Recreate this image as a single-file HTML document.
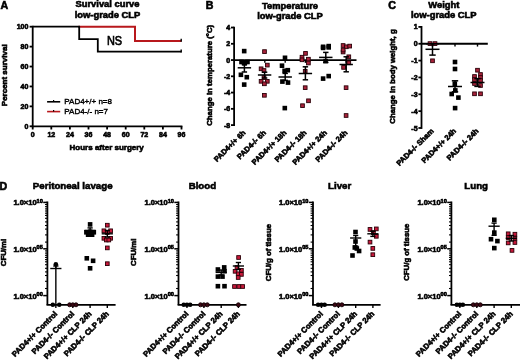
<!DOCTYPE html>
<html><head><meta charset="utf-8"><title>Figure</title>
<style>
html,body{margin:0;padding:0;background:#fff;width:520px;height:360px;overflow:hidden;}
svg{display:block;will-change:transform;}
text{stroke:#000;stroke-width:0.6px;}
svg{font-family:"Liberation Sans",sans-serif;filter:blur(0.35px);}
</style></head>
<body>
<svg width="520" height="360" viewBox="0 0 520 360">
<rect width="520" height="360" fill="#fff"/>
<text x="0.60" y="8.70" font-size="10.6" text-anchor="start" font-weight="bold" >A</text>
<text x="107.50" y="6.70" font-size="9.4" text-anchor="middle" font-weight="bold" >Survival curve</text>
<text x="107.50" y="17.60" font-size="9.4" text-anchor="middle" font-weight="bold" >low-grade CLP</text>
<text transform="translate(7.40,75.30) rotate(-90)" font-size="8.0" text-anchor="middle" font-weight="bold">Percent survival</text>
<line x1="29.60" y1="126.30" x2="32.70" y2="126.30" stroke="#000" stroke-width="1.8"/>
<text x="28.40" y="128.80" font-size="7.0" text-anchor="end" font-weight="bold" >0</text>
<line x1="29.60" y1="106.38" x2="32.70" y2="106.38" stroke="#000" stroke-width="1.8"/>
<text x="28.40" y="108.88" font-size="7.0" text-anchor="end" font-weight="bold" >20</text>
<line x1="29.60" y1="86.46" x2="32.70" y2="86.46" stroke="#000" stroke-width="1.8"/>
<text x="28.40" y="88.96" font-size="7.0" text-anchor="end" font-weight="bold" >40</text>
<line x1="29.60" y1="66.54" x2="32.70" y2="66.54" stroke="#000" stroke-width="1.8"/>
<text x="28.40" y="69.04" font-size="7.0" text-anchor="end" font-weight="bold" >60</text>
<line x1="29.60" y1="46.62" x2="32.70" y2="46.62" stroke="#000" stroke-width="1.8"/>
<text x="28.40" y="49.12" font-size="7.0" text-anchor="end" font-weight="bold" >80</text>
<line x1="29.60" y1="26.70" x2="32.70" y2="26.70" stroke="#000" stroke-width="1.8"/>
<text x="28.40" y="29.20" font-size="7.0" text-anchor="end" font-weight="bold" >100</text>
<line x1="32.70" y1="126.30" x2="32.70" y2="129.50" stroke="#000" stroke-width="1.8"/>
<text x="32.70" y="137.20" font-size="7.0" text-anchor="middle" font-weight="bold" >0</text>
<line x1="51.30" y1="126.30" x2="51.30" y2="129.50" stroke="#000" stroke-width="1.8"/>
<text x="51.30" y="137.20" font-size="7.0" text-anchor="middle" font-weight="bold" >12</text>
<line x1="69.90" y1="126.30" x2="69.90" y2="129.50" stroke="#000" stroke-width="1.8"/>
<text x="69.90" y="137.20" font-size="7.0" text-anchor="middle" font-weight="bold" >24</text>
<line x1="88.50" y1="126.30" x2="88.50" y2="129.50" stroke="#000" stroke-width="1.8"/>
<text x="88.50" y="137.20" font-size="7.0" text-anchor="middle" font-weight="bold" >36</text>
<line x1="107.10" y1="126.30" x2="107.10" y2="129.50" stroke="#000" stroke-width="1.8"/>
<text x="107.10" y="137.20" font-size="7.0" text-anchor="middle" font-weight="bold" >48</text>
<line x1="125.70" y1="126.30" x2="125.70" y2="129.50" stroke="#000" stroke-width="1.8"/>
<text x="125.70" y="137.20" font-size="7.0" text-anchor="middle" font-weight="bold" >60</text>
<line x1="144.30" y1="126.30" x2="144.30" y2="129.50" stroke="#000" stroke-width="1.8"/>
<text x="144.30" y="137.20" font-size="7.0" text-anchor="middle" font-weight="bold" >72</text>
<line x1="162.90" y1="126.30" x2="162.90" y2="129.50" stroke="#000" stroke-width="1.8"/>
<text x="162.90" y="137.20" font-size="7.0" text-anchor="middle" font-weight="bold" >84</text>
<line x1="181.50" y1="126.30" x2="181.50" y2="129.50" stroke="#000" stroke-width="1.8"/>
<text x="181.50" y="137.20" font-size="7.0" text-anchor="middle" font-weight="bold" >96</text>
<polyline points="78.30,26.70 135.00,26.70 135.00,40.94 181.50,40.94" fill="none" stroke="#b8181c" stroke-width="2.0" stroke-linejoin="miter"/>
<polyline points="32.70,26.70 79.20,26.70 79.20,39.15 97.80,39.15 97.80,51.60 181.50,51.60" fill="none" stroke="#000" stroke-width="1.8" stroke-linejoin="miter"/>
<line x1="181.20" y1="41.74" x2="181.20" y2="38.74" stroke="#000" stroke-width="1.4"/>
<line x1="181.20" y1="52.40" x2="181.20" y2="49.40" stroke="#000" stroke-width="1.4"/>
<line x1="32.70" y1="25.80" x2="32.70" y2="127.20" stroke="#000" stroke-width="1.8"/>
<line x1="31.80" y1="126.30" x2="182.40" y2="126.30" stroke="#000" stroke-width="1.8"/>
<text x="106.9" y="44.8" font-size="13.2" textLength="15.2" lengthAdjust="spacingAndGlyphs" style="stroke-width:0.7px">NS</text>
<line x1="47.10" y1="101.80" x2="60.20" y2="101.80" stroke="#000" stroke-width="1.6"/>
<line x1="53.60" y1="101.80" x2="53.60" y2="100.10" stroke="#000" stroke-width="1.2"/>
<line x1="47.10" y1="111.60" x2="60.20" y2="111.60" stroke="#b8181c" stroke-width="1.6"/>
<line x1="53.60" y1="111.60" x2="53.60" y2="109.90" stroke="#000" stroke-width="1.2"/>
<text x="64.30" y="104.30" font-size="8.0" text-anchor="start"  style="stroke-width:0.4px">PAD4+/+ n=8</text>
<text x="64.30" y="114.00" font-size="8.0" text-anchor="start"  style="stroke-width:0.4px">PAD4-/-  n=7</text>
<text x="106.70" y="150.30" font-size="8.0" text-anchor="middle" font-weight="bold" >Hours after surgery</text>
<text x="205.80" y="9.00" font-size="10.6" text-anchor="start" font-weight="bold" >B</text>
<text x="290.00" y="8.60" font-size="9.4" text-anchor="middle" font-weight="bold" >Temperature</text>
<text x="290.00" y="18.80" font-size="9.4" text-anchor="middle" font-weight="bold" >low-grade CLP</text>
<text transform="translate(212.40,75.30) rotate(-90)" font-size="7.8" text-anchor="middle" font-weight="bold">Change in temperature (°C)</text>
<line x1="231.00" y1="27.53" x2="234.10" y2="27.53" stroke="#000" stroke-width="1.8"/>
<text x="230.20" y="30.03" font-size="7.0" text-anchor="end" font-weight="bold" >4</text>
<line x1="231.00" y1="43.79" x2="234.10" y2="43.79" stroke="#000" stroke-width="1.8"/>
<text x="230.20" y="46.29" font-size="7.0" text-anchor="end" font-weight="bold" >2</text>
<line x1="231.00" y1="60.05" x2="234.10" y2="60.05" stroke="#000" stroke-width="1.8"/>
<text x="230.20" y="62.55" font-size="7.0" text-anchor="end" font-weight="bold" >0</text>
<line x1="231.00" y1="76.31" x2="234.10" y2="76.31" stroke="#000" stroke-width="1.8"/>
<text x="230.20" y="78.81" font-size="7.0" text-anchor="end" font-weight="bold" >-2</text>
<line x1="231.00" y1="92.57" x2="234.10" y2="92.57" stroke="#000" stroke-width="1.8"/>
<text x="230.20" y="95.07" font-size="7.0" text-anchor="end" font-weight="bold" >-4</text>
<line x1="231.00" y1="108.83" x2="234.10" y2="108.83" stroke="#000" stroke-width="1.8"/>
<text x="230.20" y="111.33" font-size="7.0" text-anchor="end" font-weight="bold" >-6</text>
<line x1="231.00" y1="125.09" x2="234.10" y2="125.09" stroke="#000" stroke-width="1.8"/>
<text x="230.20" y="127.59" font-size="7.0" text-anchor="end" font-weight="bold" >-8</text>
<line x1="234.10" y1="26.63" x2="234.10" y2="125.99" stroke="#000" stroke-width="1.8"/>
<line x1="234.10" y1="60.05" x2="356.50" y2="60.05" stroke="#000" stroke-width="1.8"/>
<line x1="244.40" y1="60.05" x2="244.40" y2="62.85" stroke="#000" stroke-width="1.4"/>
<line x1="264.80" y1="60.05" x2="264.80" y2="62.85" stroke="#000" stroke-width="1.4"/>
<line x1="285.20" y1="60.05" x2="285.20" y2="62.85" stroke="#000" stroke-width="1.4"/>
<line x1="305.40" y1="60.05" x2="305.40" y2="62.85" stroke="#000" stroke-width="1.4"/>
<line x1="325.80" y1="60.05" x2="325.80" y2="62.85" stroke="#000" stroke-width="1.4"/>
<line x1="346.20" y1="60.05" x2="346.20" y2="62.85" stroke="#000" stroke-width="1.4"/>
<rect x="241.90" y="48.80" width="4.60" height="4.60" fill="#000"/>
<rect x="239.20" y="59.70" width="4.60" height="4.60" fill="#000"/>
<rect x="245.20" y="59.70" width="4.60" height="4.60" fill="#000"/>
<rect x="242.20" y="61.00" width="4.60" height="4.60" fill="#000"/>
<rect x="238.60" y="72.50" width="4.60" height="4.60" fill="#000"/>
<rect x="244.50" y="74.90" width="4.60" height="4.60" fill="#000"/>
<rect x="241.90" y="82.30" width="4.60" height="4.60" fill="#000"/>
<line x1="237.70" y1="67.80" x2="251.10" y2="67.80" stroke="#000" stroke-width="1.5"/>
<line x1="244.40" y1="64.60" x2="244.40" y2="67.80" stroke="#000" stroke-width="1.5"/>
<line x1="241.70" y1="64.60" x2="247.10" y2="64.60" stroke="#000" stroke-width="1.5"/>
<line x1="244.40" y1="67.80" x2="244.40" y2="72.00" stroke="#000" stroke-width="1.5"/>
<line x1="241.70" y1="72.00" x2="247.10" y2="72.00" stroke="#000" stroke-width="1.5"/>
<rect x="262.65" y="49.75" width="3.70" height="3.70" fill="#a8223a" stroke="#2a0008" stroke-width="0.9"/>
<rect x="265.45" y="63.25" width="3.70" height="3.70" fill="#a8223a" stroke="#2a0008" stroke-width="0.9"/>
<rect x="259.25" y="66.95" width="3.70" height="3.70" fill="#a8223a" stroke="#2a0008" stroke-width="0.9"/>
<rect x="262.15" y="68.65" width="3.70" height="3.70" fill="#a8223a" stroke="#2a0008" stroke-width="0.9"/>
<rect x="262.15" y="75.75" width="3.70" height="3.70" fill="#a8223a" stroke="#2a0008" stroke-width="0.9"/>
<rect x="259.25" y="79.45" width="3.70" height="3.70" fill="#a8223a" stroke="#2a0008" stroke-width="0.9"/>
<rect x="265.45" y="79.45" width="3.70" height="3.70" fill="#a8223a" stroke="#2a0008" stroke-width="0.9"/>
<rect x="262.55" y="81.95" width="3.70" height="3.70" fill="#a8223a" stroke="#2a0008" stroke-width="0.9"/>
<rect x="262.55" y="93.45" width="3.70" height="3.70" fill="#a8223a" stroke="#2a0008" stroke-width="0.9"/>
<line x1="257.90" y1="75.00" x2="271.30" y2="75.00" stroke="#000" stroke-width="1.5"/>
<line x1="264.60" y1="72.20" x2="264.60" y2="75.00" stroke="#000" stroke-width="1.5"/>
<line x1="261.90" y1="72.20" x2="267.30" y2="72.20" stroke="#000" stroke-width="1.5"/>
<line x1="264.60" y1="75.00" x2="264.60" y2="78.00" stroke="#000" stroke-width="1.5"/>
<line x1="261.90" y1="78.00" x2="267.30" y2="78.00" stroke="#000" stroke-width="1.5"/>
<rect x="282.70" y="55.50" width="4.60" height="4.60" fill="#000"/>
<rect x="279.70" y="63.40" width="4.60" height="4.60" fill="#000"/>
<rect x="282.30" y="68.50" width="4.60" height="4.60" fill="#000"/>
<rect x="285.50" y="67.90" width="4.60" height="4.60" fill="#000"/>
<rect x="280.10" y="79.30" width="4.60" height="4.60" fill="#000"/>
<rect x="285.70" y="80.30" width="4.60" height="4.60" fill="#000"/>
<rect x="282.50" y="105.80" width="4.60" height="4.60" fill="#000"/>
<line x1="278.50" y1="77.00" x2="291.90" y2="77.00" stroke="#000" stroke-width="1.5"/>
<line x1="285.20" y1="73.40" x2="285.20" y2="77.00" stroke="#000" stroke-width="1.5"/>
<line x1="282.50" y1="73.40" x2="287.90" y2="73.40" stroke="#000" stroke-width="1.5"/>
<line x1="285.20" y1="77.00" x2="285.20" y2="80.40" stroke="#000" stroke-width="1.5"/>
<line x1="282.50" y1="80.40" x2="287.90" y2="80.40" stroke="#000" stroke-width="1.5"/>
<rect x="303.65" y="51.55" width="3.70" height="3.70" fill="#a8223a" stroke="#2a0008" stroke-width="0.9"/>
<rect x="300.15" y="55.35" width="3.70" height="3.70" fill="#a8223a" stroke="#2a0008" stroke-width="0.9"/>
<rect x="300.15" y="57.95" width="3.70" height="3.70" fill="#a8223a" stroke="#2a0008" stroke-width="0.9"/>
<rect x="306.55" y="57.35" width="3.70" height="3.70" fill="#a8223a" stroke="#2a0008" stroke-width="0.9"/>
<rect x="306.55" y="61.15" width="3.70" height="3.70" fill="#a8223a" stroke="#2a0008" stroke-width="0.9"/>
<rect x="303.35" y="69.45" width="3.70" height="3.70" fill="#a8223a" stroke="#2a0008" stroke-width="0.9"/>
<rect x="303.35" y="85.85" width="3.70" height="3.70" fill="#a8223a" stroke="#2a0008" stroke-width="0.9"/>
<rect x="306.65" y="98.95" width="3.70" height="3.70" fill="#a8223a" stroke="#2a0008" stroke-width="0.9"/>
<rect x="300.65" y="103.85" width="3.70" height="3.70" fill="#a8223a" stroke="#2a0008" stroke-width="0.9"/>
<line x1="298.70" y1="73.50" x2="312.10" y2="73.50" stroke="#000" stroke-width="1.5"/>
<line x1="305.40" y1="66.80" x2="305.40" y2="73.50" stroke="#000" stroke-width="1.5"/>
<line x1="302.70" y1="66.80" x2="308.10" y2="66.80" stroke="#000" stroke-width="1.5"/>
<line x1="305.40" y1="73.50" x2="305.40" y2="79.80" stroke="#000" stroke-width="1.5"/>
<line x1="302.70" y1="79.80" x2="308.10" y2="79.80" stroke="#000" stroke-width="1.5"/>
<rect x="320.80" y="44.50" width="4.60" height="4.60" fill="#000"/>
<rect x="326.40" y="43.80" width="4.60" height="4.60" fill="#000"/>
<rect x="320.80" y="45.60" width="4.60" height="4.60" fill="#000"/>
<rect x="326.40" y="45.10" width="4.60" height="4.60" fill="#000"/>
<rect x="323.30" y="58.80" width="4.60" height="4.60" fill="#000"/>
<rect x="320.80" y="76.30" width="4.60" height="4.60" fill="#000"/>
<rect x="326.40" y="73.80" width="4.60" height="4.60" fill="#000"/>
<line x1="319.10" y1="57.40" x2="332.50" y2="57.40" stroke="#000" stroke-width="1.5"/>
<line x1="325.80" y1="52.40" x2="325.80" y2="57.40" stroke="#000" stroke-width="1.5"/>
<line x1="323.10" y1="52.40" x2="328.50" y2="52.40" stroke="#000" stroke-width="1.5"/>
<line x1="325.80" y1="57.40" x2="325.80" y2="62.40" stroke="#000" stroke-width="1.5"/>
<line x1="323.10" y1="62.40" x2="328.50" y2="62.40" stroke="#000" stroke-width="1.5"/>
<rect x="341.25" y="43.65" width="3.70" height="3.70" fill="#a8223a" stroke="#2a0008" stroke-width="0.9"/>
<rect x="344.45" y="44.95" width="3.70" height="3.70" fill="#a8223a" stroke="#2a0008" stroke-width="0.9"/>
<rect x="347.85" y="44.25" width="3.70" height="3.70" fill="#a8223a" stroke="#2a0008" stroke-width="0.9"/>
<rect x="341.25" y="50.15" width="3.70" height="3.70" fill="#a8223a" stroke="#2a0008" stroke-width="0.9"/>
<rect x="341.25" y="48.15" width="3.70" height="3.70" fill="#a8223a" stroke="#2a0008" stroke-width="0.9"/>
<rect x="346.95" y="54.95" width="3.70" height="3.70" fill="#a8223a" stroke="#2a0008" stroke-width="0.9"/>
<rect x="346.95" y="60.95" width="3.70" height="3.70" fill="#a8223a" stroke="#2a0008" stroke-width="0.9"/>
<rect x="341.75" y="65.55" width="3.70" height="3.70" fill="#a8223a" stroke="#2a0008" stroke-width="0.9"/>
<rect x="344.25" y="85.85" width="3.70" height="3.70" fill="#a8223a" stroke="#2a0008" stroke-width="0.9"/>
<rect x="344.25" y="113.65" width="3.70" height="3.70" fill="#a8223a" stroke="#2a0008" stroke-width="0.9"/>
<line x1="339.50" y1="64.50" x2="352.90" y2="64.50" stroke="#000" stroke-width="1.5"/>
<line x1="346.20" y1="56.80" x2="346.20" y2="64.50" stroke="#000" stroke-width="1.5"/>
<line x1="343.50" y1="56.80" x2="348.90" y2="56.80" stroke="#000" stroke-width="1.5"/>
<line x1="346.20" y1="64.50" x2="346.20" y2="71.80" stroke="#000" stroke-width="1.5"/>
<line x1="343.50" y1="71.80" x2="348.90" y2="71.80" stroke="#000" stroke-width="1.5"/>
<text transform="translate(246.10,133.20) rotate(-45)" font-size="7.5" text-anchor="end" font-weight="bold">PAD4+/+ 6h</text>
<text transform="translate(266.50,133.20) rotate(-45)" font-size="7.5" text-anchor="end" font-weight="bold">PAD4-/- 6h</text>
<text transform="translate(286.90,133.20) rotate(-45)" font-size="7.5" text-anchor="end" font-weight="bold">PAD4+/+ 18h</text>
<text transform="translate(307.10,133.20) rotate(-45)" font-size="7.5" text-anchor="end" font-weight="bold">PAD4-/- 18h</text>
<text transform="translate(327.50,133.20) rotate(-45)" font-size="7.5" text-anchor="end" font-weight="bold">PAD4+/+ 24h</text>
<text transform="translate(347.90,133.20) rotate(-45)" font-size="7.5" text-anchor="end" font-weight="bold">PAD4-/- 24h</text>
<text x="388.20" y="9.20" font-size="10.6" text-anchor="start" font-weight="bold" >C</text>
<text x="443.80" y="8.00" font-size="9.4" text-anchor="middle" font-weight="bold" >Weight</text>
<text x="443.80" y="17.70" font-size="9.4" text-anchor="middle" font-weight="bold" >low-grade CLP</text>
<text transform="translate(394.60,76.50) rotate(-90)" font-size="7.8" text-anchor="middle" font-weight="bold">Change in body weight, g</text>
<line x1="418.40" y1="26.90" x2="421.50" y2="26.90" stroke="#000" stroke-width="1.8"/>
<text x="417.60" y="29.40" font-size="7.0" text-anchor="end" font-weight="bold" >1</text>
<line x1="418.40" y1="43.75" x2="421.50" y2="43.75" stroke="#000" stroke-width="1.8"/>
<text x="417.60" y="46.25" font-size="7.0" text-anchor="end" font-weight="bold" >0</text>
<line x1="418.40" y1="60.60" x2="421.50" y2="60.60" stroke="#000" stroke-width="1.8"/>
<text x="417.60" y="63.10" font-size="7.0" text-anchor="end" font-weight="bold" >-1</text>
<line x1="418.40" y1="77.45" x2="421.50" y2="77.45" stroke="#000" stroke-width="1.8"/>
<text x="417.60" y="79.95" font-size="7.0" text-anchor="end" font-weight="bold" >-2</text>
<line x1="418.40" y1="94.30" x2="421.50" y2="94.30" stroke="#000" stroke-width="1.8"/>
<text x="417.60" y="96.80" font-size="7.0" text-anchor="end" font-weight="bold" >-3</text>
<line x1="418.40" y1="111.15" x2="421.50" y2="111.15" stroke="#000" stroke-width="1.8"/>
<text x="417.60" y="113.65" font-size="7.0" text-anchor="end" font-weight="bold" >-4</text>
<line x1="418.40" y1="128.00" x2="421.50" y2="128.00" stroke="#000" stroke-width="1.8"/>
<text x="417.60" y="130.50" font-size="7.0" text-anchor="end" font-weight="bold" >-5</text>
<line x1="421.50" y1="26.00" x2="421.50" y2="128.90" stroke="#000" stroke-width="1.8"/>
<line x1="421.50" y1="43.75" x2="487.80" y2="43.75" stroke="#000" stroke-width="1.8"/>
<line x1="432.50" y1="43.75" x2="432.50" y2="46.55" stroke="#000" stroke-width="1.4"/>
<line x1="455.00" y1="43.75" x2="455.00" y2="46.55" stroke="#000" stroke-width="1.4"/>
<line x1="477.50" y1="43.75" x2="477.50" y2="46.55" stroke="#000" stroke-width="1.4"/>
<rect x="428.15" y="41.75" width="3.70" height="3.70" fill="#a8223a" stroke="#2a0008" stroke-width="0.9"/>
<rect x="433.15" y="41.75" width="3.70" height="3.70" fill="#a8223a" stroke="#2a0008" stroke-width="0.9"/>
<rect x="430.65" y="58.95" width="3.70" height="3.70" fill="#a8223a" stroke="#2a0008" stroke-width="0.9"/>
<line x1="425.50" y1="49.30" x2="439.50" y2="49.30" stroke="#000" stroke-width="1.5"/>
<line x1="432.50" y1="43.80" x2="432.50" y2="49.30" stroke="#000" stroke-width="1.5"/>
<line x1="429.30" y1="43.80" x2="435.70" y2="43.80" stroke="#000" stroke-width="1.5"/>
<line x1="432.50" y1="49.30" x2="432.50" y2="55.10" stroke="#000" stroke-width="1.5"/>
<line x1="429.30" y1="55.10" x2="435.70" y2="55.10" stroke="#000" stroke-width="1.5"/>
<rect x="452.70" y="59.70" width="4.60" height="4.60" fill="#000"/>
<rect x="452.70" y="66.70" width="4.60" height="4.60" fill="#000"/>
<rect x="452.50" y="81.40" width="4.60" height="4.60" fill="#000"/>
<rect x="453.00" y="88.10" width="4.60" height="4.60" fill="#000"/>
<rect x="449.40" y="91.70" width="4.60" height="4.60" fill="#000"/>
<rect x="456.10" y="95.30" width="4.60" height="4.60" fill="#000"/>
<rect x="452.80" y="105.80" width="4.60" height="4.60" fill="#000"/>
<line x1="448.00" y1="86.50" x2="462.00" y2="86.50" stroke="#000" stroke-width="1.5"/>
<line x1="455.00" y1="80.80" x2="455.00" y2="86.50" stroke="#000" stroke-width="1.5"/>
<line x1="451.80" y1="80.80" x2="458.20" y2="80.80" stroke="#000" stroke-width="1.5"/>
<line x1="455.00" y1="86.50" x2="455.00" y2="91.80" stroke="#000" stroke-width="1.5"/>
<line x1="451.80" y1="91.80" x2="458.20" y2="91.80" stroke="#000" stroke-width="1.5"/>
<rect x="475.65" y="68.35" width="3.70" height="3.70" fill="#a8223a" stroke="#2a0008" stroke-width="0.9"/>
<rect x="478.65" y="72.65" width="3.70" height="3.70" fill="#a8223a" stroke="#2a0008" stroke-width="0.9"/>
<rect x="472.65" y="74.65" width="3.70" height="3.70" fill="#a8223a" stroke="#2a0008" stroke-width="0.9"/>
<rect x="478.65" y="75.65" width="3.70" height="3.70" fill="#a8223a" stroke="#2a0008" stroke-width="0.9"/>
<rect x="472.65" y="77.65" width="3.70" height="3.70" fill="#a8223a" stroke="#2a0008" stroke-width="0.9"/>
<rect x="478.65" y="78.65" width="3.70" height="3.70" fill="#a8223a" stroke="#2a0008" stroke-width="0.9"/>
<rect x="472.65" y="81.65" width="3.70" height="3.70" fill="#a8223a" stroke="#2a0008" stroke-width="0.9"/>
<rect x="478.65" y="83.65" width="3.70" height="3.70" fill="#a8223a" stroke="#2a0008" stroke-width="0.9"/>
<rect x="472.65" y="91.95" width="3.70" height="3.70" fill="#a8223a" stroke="#2a0008" stroke-width="0.9"/>
<rect x="478.65" y="91.95" width="3.70" height="3.70" fill="#a8223a" stroke="#2a0008" stroke-width="0.9"/>
<line x1="470.50" y1="82.50" x2="484.50" y2="82.50" stroke="#000" stroke-width="1.5"/>
<line x1="477.50" y1="78.60" x2="477.50" y2="82.50" stroke="#000" stroke-width="1.5"/>
<line x1="474.30" y1="78.60" x2="480.70" y2="78.60" stroke="#000" stroke-width="1.5"/>
<line x1="477.50" y1="82.50" x2="477.50" y2="86.40" stroke="#000" stroke-width="1.5"/>
<line x1="474.30" y1="86.40" x2="480.70" y2="86.40" stroke="#000" stroke-width="1.5"/>
<line x1="426.00" y1="43.75" x2="439.00" y2="43.75" stroke="#000" stroke-width="1.4"/>
<text transform="translate(434.10,131.50) rotate(-45)" font-size="7.5" text-anchor="end" font-weight="bold">PAD4-/- Sham</text>
<text transform="translate(456.60,131.50) rotate(-45)" font-size="7.5" text-anchor="end" font-weight="bold">PAD4+/+ 24h</text>
<text transform="translate(479.10,131.50) rotate(-45)" font-size="7.5" text-anchor="end" font-weight="bold">PAD4-/- 24h</text>
<text x="-0.40" y="189.90" font-size="10.6" text-anchor="start" font-weight="bold" >D</text>
<text x="72.70" y="188.80" font-size="9.7" text-anchor="middle" font-weight="bold" >Peritoneal lavage</text>
<text transform="translate(6.40,252.60) rotate(-90)" font-size="7.8" text-anchor="middle" font-weight="bold">CFU/ml</text>
<line x1="47.40" y1="201.50" x2="47.40" y2="304.80" stroke="#000" stroke-width="1.8"/>
<line x1="46.50" y1="304.80" x2="115.60" y2="304.80" stroke="#000" stroke-width="1.8"/>
<line x1="43.20" y1="202.40" x2="47.40" y2="202.40" stroke="#000" stroke-width="1.5"/>
<text x="42.80" y="205.30" font-size="7.5" text-anchor="end" font-weight="bold">1.0×10<tspan font-size="5.6" dy="-2.8">10</tspan></text>
<line x1="43.20" y1="248.80" x2="47.40" y2="248.80" stroke="#000" stroke-width="1.5"/>
<text x="42.80" y="251.70" font-size="7.5" text-anchor="end" font-weight="bold">1.0×10<tspan font-size="5.6" dy="-2.8">05</tspan></text>
<line x1="43.20" y1="295.60" x2="47.40" y2="295.60" stroke="#000" stroke-width="1.5"/>
<text x="42.80" y="298.50" font-size="7.5" text-anchor="end" font-weight="bold">1.0×10<tspan font-size="5.6" dy="-2.8">00</tspan></text>
<line x1="45.00" y1="204.50" x2="47.40" y2="204.50" stroke="#000" stroke-width="1.1"/>
<line x1="45.00" y1="206.70" x2="47.40" y2="206.70" stroke="#000" stroke-width="1.1"/>
<line x1="45.00" y1="208.90" x2="47.40" y2="208.90" stroke="#000" stroke-width="1.1"/>
<line x1="45.00" y1="211.00" x2="47.40" y2="211.00" stroke="#000" stroke-width="1.1"/>
<line x1="45.00" y1="213.20" x2="47.40" y2="213.20" stroke="#000" stroke-width="1.1"/>
<line x1="45.00" y1="215.40" x2="47.40" y2="215.40" stroke="#000" stroke-width="1.1"/>
<line x1="45.00" y1="218.30" x2="47.40" y2="218.30" stroke="#000" stroke-width="1.1"/>
<line x1="45.00" y1="221.90" x2="47.40" y2="221.90" stroke="#000" stroke-width="1.1"/>
<line x1="45.00" y1="225.50" x2="47.40" y2="225.50" stroke="#000" stroke-width="1.1"/>
<line x1="45.00" y1="229.10" x2="47.40" y2="229.10" stroke="#000" stroke-width="1.1"/>
<line x1="45.00" y1="234.90" x2="47.40" y2="234.90" stroke="#000" stroke-width="1.1"/>
<line x1="45.00" y1="242.10" x2="47.40" y2="242.10" stroke="#000" stroke-width="1.1"/>
<line x1="45.00" y1="250.90" x2="47.40" y2="250.90" stroke="#000" stroke-width="1.1"/>
<line x1="45.00" y1="253.10" x2="47.40" y2="253.10" stroke="#000" stroke-width="1.1"/>
<line x1="45.00" y1="255.30" x2="47.40" y2="255.30" stroke="#000" stroke-width="1.1"/>
<line x1="45.00" y1="257.40" x2="47.40" y2="257.40" stroke="#000" stroke-width="1.1"/>
<line x1="45.00" y1="259.60" x2="47.40" y2="259.60" stroke="#000" stroke-width="1.1"/>
<line x1="45.00" y1="261.80" x2="47.40" y2="261.80" stroke="#000" stroke-width="1.1"/>
<line x1="45.00" y1="264.70" x2="47.40" y2="264.70" stroke="#000" stroke-width="1.1"/>
<line x1="45.00" y1="268.30" x2="47.40" y2="268.30" stroke="#000" stroke-width="1.1"/>
<line x1="45.00" y1="271.90" x2="47.40" y2="271.90" stroke="#000" stroke-width="1.1"/>
<line x1="45.00" y1="275.50" x2="47.40" y2="275.50" stroke="#000" stroke-width="1.1"/>
<line x1="45.00" y1="281.30" x2="47.40" y2="281.30" stroke="#000" stroke-width="1.1"/>
<line x1="45.00" y1="288.50" x2="47.40" y2="288.50" stroke="#000" stroke-width="1.1"/>
<line x1="55.85" y1="304.80" x2="55.85" y2="308.00" stroke="#000" stroke-width="1.4"/>
<line x1="72.80" y1="304.80" x2="72.80" y2="308.00" stroke="#000" stroke-width="1.4"/>
<line x1="90.10" y1="304.80" x2="90.10" y2="308.00" stroke="#000" stroke-width="1.4"/>
<line x1="107.30" y1="304.80" x2="107.30" y2="308.00" stroke="#000" stroke-width="1.4"/>
<line x1="55.85" y1="266.00" x2="55.85" y2="304.80" stroke="#000" stroke-width="1.4"/>
<circle cx="52.85" cy="304.80" r="2.30" fill="#000"/>
<circle cx="59.25" cy="304.80" r="2.30" fill="#000"/>
<circle cx="55.85" cy="264.30" r="2.30" fill="#000"/>
<line x1="50.25" y1="268.50" x2="61.45" y2="268.50" stroke="#000" stroke-width="1.4"/>
<line x1="55.85" y1="266.00" x2="55.85" y2="268.50" stroke="#000" stroke-width="1.4"/>
<line x1="53.25" y1="266.00" x2="58.45" y2="266.00" stroke="#000" stroke-width="1.4"/>
<circle cx="69.60" cy="304.80" r="2.00" fill="#3c0814" stroke="#120003" stroke-width="0.9"/>
<circle cx="72.80" cy="304.80" r="2.00" fill="#3c0814" stroke="#120003" stroke-width="0.9"/>
<circle cx="76.00" cy="304.80" r="2.00" fill="#3c0814" stroke="#120003" stroke-width="0.9"/>
<rect x="87.80" y="222.10" width="4.60" height="4.60" fill="#000"/>
<rect x="84.10" y="230.00" width="4.60" height="4.60" fill="#000"/>
<rect x="87.80" y="229.40" width="4.60" height="4.60" fill="#000"/>
<rect x="91.50" y="230.00" width="4.60" height="4.60" fill="#000"/>
<rect x="85.80" y="232.40" width="4.60" height="4.60" fill="#000"/>
<rect x="89.80" y="232.40" width="4.60" height="4.60" fill="#000"/>
<rect x="84.50" y="256.00" width="4.60" height="4.60" fill="#000"/>
<rect x="90.80" y="258.50" width="4.60" height="4.60" fill="#000"/>
<rect x="87.80" y="266.00" width="4.60" height="4.60" fill="#000"/>
<line x1="84.50" y1="230.40" x2="95.70" y2="230.40" stroke="#000" stroke-width="1.4"/>
<line x1="90.10" y1="227.90" x2="90.10" y2="230.40" stroke="#000" stroke-width="1.4"/>
<line x1="87.50" y1="227.90" x2="92.70" y2="227.90" stroke="#000" stroke-width="1.4"/>
<line x1="90.10" y1="230.40" x2="90.10" y2="235.00" stroke="#000" stroke-width="1.4"/>
<line x1="87.50" y1="235.00" x2="92.70" y2="235.00" stroke="#000" stroke-width="1.4"/>
<rect x="105.45" y="223.35" width="3.70" height="3.70" fill="#c8183a" stroke="#2a0008" stroke-width="0.9"/>
<rect x="102.05" y="228.95" width="3.70" height="3.70" fill="#c8183a" stroke="#2a0008" stroke-width="0.9"/>
<rect x="108.75" y="228.95" width="3.70" height="3.70" fill="#c8183a" stroke="#2a0008" stroke-width="0.9"/>
<rect x="105.45" y="230.65" width="3.70" height="3.70" fill="#c8183a" stroke="#2a0008" stroke-width="0.9"/>
<rect x="102.05" y="236.45" width="3.70" height="3.70" fill="#c8183a" stroke="#2a0008" stroke-width="0.9"/>
<rect x="108.75" y="236.45" width="3.70" height="3.70" fill="#c8183a" stroke="#2a0008" stroke-width="0.9"/>
<rect x="104.45" y="238.15" width="3.70" height="3.70" fill="#c8183a" stroke="#2a0008" stroke-width="0.9"/>
<rect x="106.95" y="238.15" width="3.70" height="3.70" fill="#c8183a" stroke="#2a0008" stroke-width="0.9"/>
<rect x="105.45" y="246.05" width="3.70" height="3.70" fill="#c8183a" stroke="#2a0008" stroke-width="0.9"/>
<rect x="105.45" y="261.85" width="3.70" height="3.70" fill="#c8183a" stroke="#2a0008" stroke-width="0.9"/>
<line x1="101.70" y1="233.80" x2="112.90" y2="233.80" stroke="#000" stroke-width="1.4"/>
<line x1="107.30" y1="230.50" x2="107.30" y2="233.80" stroke="#000" stroke-width="1.4"/>
<line x1="104.70" y1="230.50" x2="109.90" y2="230.50" stroke="#000" stroke-width="1.4"/>
<line x1="107.30" y1="233.80" x2="107.30" y2="237.00" stroke="#000" stroke-width="1.4"/>
<line x1="104.70" y1="237.00" x2="109.90" y2="237.00" stroke="#000" stroke-width="1.4"/>
<text transform="translate(57.85,314.40) rotate(-45)" font-size="7.7" text-anchor="end" font-weight="bold">PAD4+/+ Control</text>
<text transform="translate(74.80,314.40) rotate(-45)" font-size="7.7" text-anchor="end" font-weight="bold">PAD4-/- Control</text>
<text transform="translate(92.10,314.40) rotate(-45)" font-size="7.7" text-anchor="end" font-weight="bold">PAD4+/+ CLP 24h</text>
<text transform="translate(109.30,314.40) rotate(-45)" font-size="7.7" text-anchor="end" font-weight="bold">PAD4-/- CLP 24h</text>
<text x="202.40" y="188.80" font-size="9.7" text-anchor="middle" font-weight="bold" >Blood</text>
<text transform="translate(135.60,252.30) rotate(-90)" font-size="7.8" text-anchor="middle" font-weight="bold">CFU/ml</text>
<line x1="178.50" y1="201.50" x2="178.50" y2="304.80" stroke="#000" stroke-width="1.8"/>
<line x1="177.60" y1="304.80" x2="246.50" y2="304.80" stroke="#000" stroke-width="1.8"/>
<line x1="174.30" y1="202.40" x2="178.50" y2="202.40" stroke="#000" stroke-width="1.5"/>
<text x="173.90" y="205.30" font-size="7.5" text-anchor="end" font-weight="bold">1.0×10<tspan font-size="5.6" dy="-2.8">10</tspan></text>
<line x1="174.30" y1="248.80" x2="178.50" y2="248.80" stroke="#000" stroke-width="1.5"/>
<text x="173.90" y="251.70" font-size="7.5" text-anchor="end" font-weight="bold">1.0×10<tspan font-size="5.6" dy="-2.8">05</tspan></text>
<line x1="174.30" y1="295.60" x2="178.50" y2="295.60" stroke="#000" stroke-width="1.5"/>
<text x="173.90" y="298.50" font-size="7.5" text-anchor="end" font-weight="bold">1.0×10<tspan font-size="5.6" dy="-2.8">00</tspan></text>
<line x1="176.10" y1="204.50" x2="178.50" y2="204.50" stroke="#000" stroke-width="1.1"/>
<line x1="176.10" y1="206.70" x2="178.50" y2="206.70" stroke="#000" stroke-width="1.1"/>
<line x1="176.10" y1="208.90" x2="178.50" y2="208.90" stroke="#000" stroke-width="1.1"/>
<line x1="176.10" y1="211.00" x2="178.50" y2="211.00" stroke="#000" stroke-width="1.1"/>
<line x1="176.10" y1="213.20" x2="178.50" y2="213.20" stroke="#000" stroke-width="1.1"/>
<line x1="176.10" y1="215.40" x2="178.50" y2="215.40" stroke="#000" stroke-width="1.1"/>
<line x1="176.10" y1="218.30" x2="178.50" y2="218.30" stroke="#000" stroke-width="1.1"/>
<line x1="176.10" y1="221.90" x2="178.50" y2="221.90" stroke="#000" stroke-width="1.1"/>
<line x1="176.10" y1="225.50" x2="178.50" y2="225.50" stroke="#000" stroke-width="1.1"/>
<line x1="176.10" y1="229.10" x2="178.50" y2="229.10" stroke="#000" stroke-width="1.1"/>
<line x1="176.10" y1="234.90" x2="178.50" y2="234.90" stroke="#000" stroke-width="1.1"/>
<line x1="176.10" y1="242.10" x2="178.50" y2="242.10" stroke="#000" stroke-width="1.1"/>
<line x1="176.10" y1="250.90" x2="178.50" y2="250.90" stroke="#000" stroke-width="1.1"/>
<line x1="176.10" y1="253.10" x2="178.50" y2="253.10" stroke="#000" stroke-width="1.1"/>
<line x1="176.10" y1="255.30" x2="178.50" y2="255.30" stroke="#000" stroke-width="1.1"/>
<line x1="176.10" y1="257.40" x2="178.50" y2="257.40" stroke="#000" stroke-width="1.1"/>
<line x1="176.10" y1="259.60" x2="178.50" y2="259.60" stroke="#000" stroke-width="1.1"/>
<line x1="176.10" y1="261.80" x2="178.50" y2="261.80" stroke="#000" stroke-width="1.1"/>
<line x1="176.10" y1="264.70" x2="178.50" y2="264.70" stroke="#000" stroke-width="1.1"/>
<line x1="176.10" y1="268.30" x2="178.50" y2="268.30" stroke="#000" stroke-width="1.1"/>
<line x1="176.10" y1="271.90" x2="178.50" y2="271.90" stroke="#000" stroke-width="1.1"/>
<line x1="176.10" y1="275.50" x2="178.50" y2="275.50" stroke="#000" stroke-width="1.1"/>
<line x1="176.10" y1="281.30" x2="178.50" y2="281.30" stroke="#000" stroke-width="1.1"/>
<line x1="176.10" y1="288.50" x2="178.50" y2="288.50" stroke="#000" stroke-width="1.1"/>
<line x1="186.95" y1="304.80" x2="186.95" y2="308.00" stroke="#000" stroke-width="1.4"/>
<line x1="203.90" y1="304.80" x2="203.90" y2="308.00" stroke="#000" stroke-width="1.4"/>
<line x1="221.20" y1="304.80" x2="221.20" y2="308.00" stroke="#000" stroke-width="1.4"/>
<line x1="238.40" y1="304.80" x2="238.40" y2="308.00" stroke="#000" stroke-width="1.4"/>
<circle cx="183.75" cy="304.80" r="2.30" fill="#000"/>
<circle cx="186.95" cy="304.80" r="2.30" fill="#000"/>
<circle cx="190.15" cy="304.80" r="2.30" fill="#000"/>
<circle cx="200.50" cy="304.80" r="2.00" fill="#3c0814" stroke="#120003" stroke-width="0.9"/>
<circle cx="203.90" cy="304.80" r="2.00" fill="#3c0814" stroke="#120003" stroke-width="0.9"/>
<circle cx="207.30" cy="304.80" r="2.00" fill="#3c0814" stroke="#120003" stroke-width="0.9"/>
<rect x="221.90" y="265.10" width="4.60" height="4.60" fill="#000"/>
<rect x="215.60" y="267.20" width="4.60" height="4.60" fill="#000"/>
<rect x="222.20" y="268.90" width="4.60" height="4.60" fill="#000"/>
<rect x="215.60" y="274.30" width="4.60" height="4.60" fill="#000"/>
<rect x="220.20" y="274.30" width="4.60" height="4.60" fill="#000"/>
<rect x="215.60" y="283.90" width="4.60" height="4.60" fill="#000"/>
<rect x="222.20" y="283.90" width="4.60" height="4.60" fill="#000"/>
<line x1="215.60" y1="272.40" x2="226.80" y2="272.40" stroke="#000" stroke-width="1.4"/>
<line x1="221.20" y1="270.00" x2="221.20" y2="272.40" stroke="#000" stroke-width="1.4"/>
<line x1="218.60" y1="270.00" x2="223.80" y2="270.00" stroke="#000" stroke-width="1.4"/>
<line x1="221.20" y1="272.40" x2="221.20" y2="275.00" stroke="#000" stroke-width="1.4"/>
<line x1="218.60" y1="275.00" x2="223.80" y2="275.00" stroke="#000" stroke-width="1.4"/>
<circle cx="238.40" cy="304.80" r="2.00" fill="#3c0814" stroke="#120003" stroke-width="0.9"/>
<rect x="236.75" y="255.65" width="3.70" height="3.70" fill="#c8183a" stroke="#2a0008" stroke-width="0.9"/>
<rect x="235.15" y="265.65" width="3.70" height="3.70" fill="#c8183a" stroke="#2a0008" stroke-width="0.9"/>
<rect x="233.25" y="269.45" width="3.70" height="3.70" fill="#c8183a" stroke="#2a0008" stroke-width="0.9"/>
<rect x="239.55" y="268.45" width="3.70" height="3.70" fill="#c8183a" stroke="#2a0008" stroke-width="0.9"/>
<rect x="236.35" y="271.95" width="3.70" height="3.70" fill="#c8183a" stroke="#2a0008" stroke-width="0.9"/>
<rect x="239.55" y="272.55" width="3.70" height="3.70" fill="#c8183a" stroke="#2a0008" stroke-width="0.9"/>
<rect x="236.35" y="275.65" width="3.70" height="3.70" fill="#c8183a" stroke="#2a0008" stroke-width="0.9"/>
<rect x="232.65" y="284.65" width="3.70" height="3.70" fill="#c8183a" stroke="#2a0008" stroke-width="0.9"/>
<rect x="236.95" y="284.65" width="3.70" height="3.70" fill="#c8183a" stroke="#2a0008" stroke-width="0.9"/>
<rect x="240.75" y="284.65" width="3.70" height="3.70" fill="#c8183a" stroke="#2a0008" stroke-width="0.9"/>
<line x1="232.80" y1="266.00" x2="244.00" y2="266.00" stroke="#000" stroke-width="1.4"/>
<line x1="238.40" y1="262.50" x2="238.40" y2="266.00" stroke="#000" stroke-width="1.4"/>
<line x1="235.80" y1="262.50" x2="241.00" y2="262.50" stroke="#000" stroke-width="1.4"/>
<line x1="238.40" y1="266.00" x2="238.40" y2="269.50" stroke="#000" stroke-width="1.4"/>
<line x1="235.80" y1="269.50" x2="241.00" y2="269.50" stroke="#000" stroke-width="1.4"/>
<text transform="translate(188.95,314.40) rotate(-45)" font-size="7.7" text-anchor="end" font-weight="bold">PAD4+/+ Control</text>
<text transform="translate(205.90,314.40) rotate(-45)" font-size="7.7" text-anchor="end" font-weight="bold">PAD4-/- Control</text>
<text transform="translate(223.20,314.40) rotate(-45)" font-size="7.7" text-anchor="end" font-weight="bold">PAD4+/+ CLP 24h</text>
<text transform="translate(240.40,314.40) rotate(-45)" font-size="7.7" text-anchor="end" font-weight="bold">PAD4-/- CLP 24h</text>
<text x="339.70" y="188.80" font-size="9.7" text-anchor="middle" font-weight="bold" >Liver</text>
<text transform="translate(270.60,252.60) rotate(-90)" font-size="7.8" text-anchor="middle" font-weight="bold">CFU/g of tissue</text>
<line x1="313.00" y1="201.50" x2="313.00" y2="304.80" stroke="#000" stroke-width="1.8"/>
<line x1="312.10" y1="304.80" x2="380.60" y2="304.80" stroke="#000" stroke-width="1.8"/>
<line x1="308.80" y1="202.40" x2="313.00" y2="202.40" stroke="#000" stroke-width="1.5"/>
<text x="308.40" y="205.30" font-size="7.5" text-anchor="end" font-weight="bold">1.0×10<tspan font-size="5.6" dy="-2.8">10</tspan></text>
<line x1="308.80" y1="248.80" x2="313.00" y2="248.80" stroke="#000" stroke-width="1.5"/>
<text x="308.40" y="251.70" font-size="7.5" text-anchor="end" font-weight="bold">1.0×10<tspan font-size="5.6" dy="-2.8">05</tspan></text>
<line x1="308.80" y1="295.60" x2="313.00" y2="295.60" stroke="#000" stroke-width="1.5"/>
<text x="308.40" y="298.50" font-size="7.5" text-anchor="end" font-weight="bold">1.0×10<tspan font-size="5.6" dy="-2.8">00</tspan></text>
<line x1="310.60" y1="204.50" x2="313.00" y2="204.50" stroke="#000" stroke-width="1.1"/>
<line x1="310.60" y1="206.70" x2="313.00" y2="206.70" stroke="#000" stroke-width="1.1"/>
<line x1="310.60" y1="208.90" x2="313.00" y2="208.90" stroke="#000" stroke-width="1.1"/>
<line x1="310.60" y1="211.00" x2="313.00" y2="211.00" stroke="#000" stroke-width="1.1"/>
<line x1="310.60" y1="213.20" x2="313.00" y2="213.20" stroke="#000" stroke-width="1.1"/>
<line x1="310.60" y1="215.40" x2="313.00" y2="215.40" stroke="#000" stroke-width="1.1"/>
<line x1="310.60" y1="218.30" x2="313.00" y2="218.30" stroke="#000" stroke-width="1.1"/>
<line x1="310.60" y1="221.90" x2="313.00" y2="221.90" stroke="#000" stroke-width="1.1"/>
<line x1="310.60" y1="225.50" x2="313.00" y2="225.50" stroke="#000" stroke-width="1.1"/>
<line x1="310.60" y1="229.10" x2="313.00" y2="229.10" stroke="#000" stroke-width="1.1"/>
<line x1="310.60" y1="234.90" x2="313.00" y2="234.90" stroke="#000" stroke-width="1.1"/>
<line x1="310.60" y1="242.10" x2="313.00" y2="242.10" stroke="#000" stroke-width="1.1"/>
<line x1="310.60" y1="250.90" x2="313.00" y2="250.90" stroke="#000" stroke-width="1.1"/>
<line x1="310.60" y1="253.10" x2="313.00" y2="253.10" stroke="#000" stroke-width="1.1"/>
<line x1="310.60" y1="255.30" x2="313.00" y2="255.30" stroke="#000" stroke-width="1.1"/>
<line x1="310.60" y1="257.40" x2="313.00" y2="257.40" stroke="#000" stroke-width="1.1"/>
<line x1="310.60" y1="259.60" x2="313.00" y2="259.60" stroke="#000" stroke-width="1.1"/>
<line x1="310.60" y1="261.80" x2="313.00" y2="261.80" stroke="#000" stroke-width="1.1"/>
<line x1="310.60" y1="264.70" x2="313.00" y2="264.70" stroke="#000" stroke-width="1.1"/>
<line x1="310.60" y1="268.30" x2="313.00" y2="268.30" stroke="#000" stroke-width="1.1"/>
<line x1="310.60" y1="271.90" x2="313.00" y2="271.90" stroke="#000" stroke-width="1.1"/>
<line x1="310.60" y1="275.50" x2="313.00" y2="275.50" stroke="#000" stroke-width="1.1"/>
<line x1="310.60" y1="281.30" x2="313.00" y2="281.30" stroke="#000" stroke-width="1.1"/>
<line x1="310.60" y1="288.50" x2="313.00" y2="288.50" stroke="#000" stroke-width="1.1"/>
<line x1="321.45" y1="304.80" x2="321.45" y2="308.00" stroke="#000" stroke-width="1.4"/>
<line x1="338.40" y1="304.80" x2="338.40" y2="308.00" stroke="#000" stroke-width="1.4"/>
<line x1="355.70" y1="304.80" x2="355.70" y2="308.00" stroke="#000" stroke-width="1.4"/>
<line x1="372.90" y1="304.80" x2="372.90" y2="308.00" stroke="#000" stroke-width="1.4"/>
<circle cx="318.15" cy="304.80" r="2.30" fill="#000"/>
<circle cx="321.45" cy="304.80" r="2.30" fill="#000"/>
<circle cx="324.65" cy="304.80" r="2.30" fill="#000"/>
<circle cx="334.90" cy="304.80" r="2.00" fill="#3c0814" stroke="#120003" stroke-width="0.9"/>
<circle cx="338.40" cy="304.80" r="2.00" fill="#3c0814" stroke="#120003" stroke-width="0.9"/>
<circle cx="341.90" cy="304.80" r="2.00" fill="#3c0814" stroke="#120003" stroke-width="0.9"/>
<rect x="353.20" y="229.70" width="4.60" height="4.60" fill="#000"/>
<rect x="353.20" y="239.20" width="4.60" height="4.60" fill="#000"/>
<rect x="352.50" y="245.20" width="4.60" height="4.60" fill="#000"/>
<rect x="354.50" y="246.20" width="4.60" height="4.60" fill="#000"/>
<rect x="356.80" y="248.70" width="4.60" height="4.60" fill="#000"/>
<rect x="350.20" y="253.20" width="4.60" height="4.60" fill="#000"/>
<line x1="350.10" y1="238.00" x2="361.30" y2="238.00" stroke="#000" stroke-width="1.4"/>
<line x1="355.70" y1="235.50" x2="355.70" y2="238.00" stroke="#000" stroke-width="1.4"/>
<line x1="353.10" y1="235.50" x2="358.30" y2="235.50" stroke="#000" stroke-width="1.4"/>
<line x1="355.70" y1="238.00" x2="355.70" y2="246.00" stroke="#000" stroke-width="1.4"/>
<line x1="353.10" y1="246.00" x2="358.30" y2="246.00" stroke="#000" stroke-width="1.4"/>
<rect x="368.15" y="227.55" width="3.70" height="3.70" fill="#c8183a" stroke="#2a0008" stroke-width="0.9"/>
<rect x="374.45" y="227.05" width="3.70" height="3.70" fill="#c8183a" stroke="#2a0008" stroke-width="0.9"/>
<rect x="371.55" y="230.75" width="3.70" height="3.70" fill="#c8183a" stroke="#2a0008" stroke-width="0.9"/>
<rect x="374.45" y="234.45" width="3.70" height="3.70" fill="#c8183a" stroke="#2a0008" stroke-width="0.9"/>
<rect x="368.15" y="240.25" width="3.70" height="3.70" fill="#c8183a" stroke="#2a0008" stroke-width="0.9"/>
<rect x="370.95" y="246.55" width="3.70" height="3.70" fill="#c8183a" stroke="#2a0008" stroke-width="0.9"/>
<rect x="370.95" y="252.85" width="3.70" height="3.70" fill="#c8183a" stroke="#2a0008" stroke-width="0.9"/>
<line x1="367.30" y1="233.80" x2="378.50" y2="233.80" stroke="#000" stroke-width="1.4"/>
<line x1="372.90" y1="231.20" x2="372.90" y2="233.80" stroke="#000" stroke-width="1.4"/>
<line x1="370.30" y1="231.20" x2="375.50" y2="231.20" stroke="#000" stroke-width="1.4"/>
<line x1="372.90" y1="233.80" x2="372.90" y2="236.40" stroke="#000" stroke-width="1.4"/>
<line x1="370.30" y1="236.40" x2="375.50" y2="236.40" stroke="#000" stroke-width="1.4"/>
<text transform="translate(323.45,314.40) rotate(-45)" font-size="7.7" text-anchor="end" font-weight="bold">PAD4+/+ Control</text>
<text transform="translate(340.40,314.40) rotate(-45)" font-size="7.7" text-anchor="end" font-weight="bold">PAD4-/- Control</text>
<text transform="translate(357.70,314.40) rotate(-45)" font-size="7.7" text-anchor="end" font-weight="bold">PAD4+/+ CLP 24h</text>
<text transform="translate(374.90,314.40) rotate(-45)" font-size="7.7" text-anchor="end" font-weight="bold">PAD4-/- CLP 24h</text>
<text x="476.20" y="188.80" font-size="9.7" text-anchor="middle" font-weight="bold" >Lung</text>
<text transform="translate(409.30,252.20) rotate(-90)" font-size="7.8" text-anchor="middle" font-weight="bold">CFU/g of tissue</text>
<line x1="451.40" y1="201.50" x2="451.40" y2="304.80" stroke="#000" stroke-width="1.8"/>
<line x1="450.50" y1="304.80" x2="520.00" y2="304.80" stroke="#000" stroke-width="1.8"/>
<line x1="447.20" y1="202.40" x2="451.40" y2="202.40" stroke="#000" stroke-width="1.5"/>
<text x="446.80" y="205.30" font-size="7.5" text-anchor="end" font-weight="bold">1.0×10<tspan font-size="5.6" dy="-2.8">10</tspan></text>
<line x1="447.20" y1="248.80" x2="451.40" y2="248.80" stroke="#000" stroke-width="1.5"/>
<text x="446.80" y="251.70" font-size="7.5" text-anchor="end" font-weight="bold">1.0×10<tspan font-size="5.6" dy="-2.8">05</tspan></text>
<line x1="447.20" y1="295.60" x2="451.40" y2="295.60" stroke="#000" stroke-width="1.5"/>
<text x="446.80" y="298.50" font-size="7.5" text-anchor="end" font-weight="bold">1.0×10<tspan font-size="5.6" dy="-2.8">00</tspan></text>
<line x1="449.00" y1="204.50" x2="451.40" y2="204.50" stroke="#000" stroke-width="1.1"/>
<line x1="449.00" y1="206.70" x2="451.40" y2="206.70" stroke="#000" stroke-width="1.1"/>
<line x1="449.00" y1="208.90" x2="451.40" y2="208.90" stroke="#000" stroke-width="1.1"/>
<line x1="449.00" y1="211.00" x2="451.40" y2="211.00" stroke="#000" stroke-width="1.1"/>
<line x1="449.00" y1="213.20" x2="451.40" y2="213.20" stroke="#000" stroke-width="1.1"/>
<line x1="449.00" y1="215.40" x2="451.40" y2="215.40" stroke="#000" stroke-width="1.1"/>
<line x1="449.00" y1="218.30" x2="451.40" y2="218.30" stroke="#000" stroke-width="1.1"/>
<line x1="449.00" y1="221.90" x2="451.40" y2="221.90" stroke="#000" stroke-width="1.1"/>
<line x1="449.00" y1="225.50" x2="451.40" y2="225.50" stroke="#000" stroke-width="1.1"/>
<line x1="449.00" y1="229.10" x2="451.40" y2="229.10" stroke="#000" stroke-width="1.1"/>
<line x1="449.00" y1="234.90" x2="451.40" y2="234.90" stroke="#000" stroke-width="1.1"/>
<line x1="449.00" y1="242.10" x2="451.40" y2="242.10" stroke="#000" stroke-width="1.1"/>
<line x1="449.00" y1="250.90" x2="451.40" y2="250.90" stroke="#000" stroke-width="1.1"/>
<line x1="449.00" y1="253.10" x2="451.40" y2="253.10" stroke="#000" stroke-width="1.1"/>
<line x1="449.00" y1="255.30" x2="451.40" y2="255.30" stroke="#000" stroke-width="1.1"/>
<line x1="449.00" y1="257.40" x2="451.40" y2="257.40" stroke="#000" stroke-width="1.1"/>
<line x1="449.00" y1="259.60" x2="451.40" y2="259.60" stroke="#000" stroke-width="1.1"/>
<line x1="449.00" y1="261.80" x2="451.40" y2="261.80" stroke="#000" stroke-width="1.1"/>
<line x1="449.00" y1="264.70" x2="451.40" y2="264.70" stroke="#000" stroke-width="1.1"/>
<line x1="449.00" y1="268.30" x2="451.40" y2="268.30" stroke="#000" stroke-width="1.1"/>
<line x1="449.00" y1="271.90" x2="451.40" y2="271.90" stroke="#000" stroke-width="1.1"/>
<line x1="449.00" y1="275.50" x2="451.40" y2="275.50" stroke="#000" stroke-width="1.1"/>
<line x1="449.00" y1="281.30" x2="451.40" y2="281.30" stroke="#000" stroke-width="1.1"/>
<line x1="449.00" y1="288.50" x2="451.40" y2="288.50" stroke="#000" stroke-width="1.1"/>
<line x1="459.85" y1="304.80" x2="459.85" y2="308.00" stroke="#000" stroke-width="1.4"/>
<line x1="476.80" y1="304.80" x2="476.80" y2="308.00" stroke="#000" stroke-width="1.4"/>
<line x1="494.10" y1="304.80" x2="494.10" y2="308.00" stroke="#000" stroke-width="1.4"/>
<line x1="511.30" y1="304.80" x2="511.30" y2="308.00" stroke="#000" stroke-width="1.4"/>
<circle cx="456.85" cy="304.80" r="2.30" fill="#000"/>
<circle cx="459.85" cy="304.80" r="2.30" fill="#000"/>
<circle cx="462.85" cy="304.80" r="2.30" fill="#000"/>
<circle cx="473.30" cy="304.80" r="2.00" fill="#3c0814" stroke="#120003" stroke-width="0.9"/>
<circle cx="476.80" cy="304.80" r="2.00" fill="#3c0814" stroke="#120003" stroke-width="0.9"/>
<circle cx="480.30" cy="304.80" r="2.00" fill="#3c0814" stroke="#120003" stroke-width="0.9"/>
<rect x="492.00" y="217.50" width="4.60" height="4.60" fill="#000"/>
<rect x="492.00" y="230.30" width="4.60" height="4.60" fill="#000"/>
<rect x="488.70" y="236.90" width="4.60" height="4.60" fill="#000"/>
<rect x="495.10" y="238.80" width="4.60" height="4.60" fill="#000"/>
<rect x="492.00" y="245.80" width="4.60" height="4.60" fill="#000"/>
<line x1="488.50" y1="226.20" x2="499.70" y2="226.20" stroke="#000" stroke-width="1.4"/>
<line x1="494.10" y1="223.10" x2="494.10" y2="226.20" stroke="#000" stroke-width="1.4"/>
<line x1="491.50" y1="223.10" x2="496.70" y2="223.10" stroke="#000" stroke-width="1.4"/>
<line x1="494.10" y1="226.20" x2="494.10" y2="235.30" stroke="#000" stroke-width="1.4"/>
<line x1="491.50" y1="235.30" x2="496.70" y2="235.30" stroke="#000" stroke-width="1.4"/>
<rect x="506.35" y="231.95" width="3.70" height="3.70" fill="#c8183a" stroke="#2a0008" stroke-width="0.9"/>
<rect x="513.05" y="232.35" width="3.70" height="3.70" fill="#c8183a" stroke="#2a0008" stroke-width="0.9"/>
<rect x="506.35" y="235.75" width="3.70" height="3.70" fill="#c8183a" stroke="#2a0008" stroke-width="0.9"/>
<rect x="513.05" y="236.45" width="3.70" height="3.70" fill="#c8183a" stroke="#2a0008" stroke-width="0.9"/>
<rect x="506.35" y="241.05" width="3.70" height="3.70" fill="#c8183a" stroke="#2a0008" stroke-width="0.9"/>
<rect x="513.05" y="240.65" width="3.70" height="3.70" fill="#c8183a" stroke="#2a0008" stroke-width="0.9"/>
<rect x="510.15" y="248.55" width="3.70" height="3.70" fill="#c8183a" stroke="#2a0008" stroke-width="0.9"/>
<line x1="505.70" y1="238.30" x2="516.90" y2="238.30" stroke="#000" stroke-width="1.4"/>
<line x1="511.30" y1="235.50" x2="511.30" y2="238.30" stroke="#000" stroke-width="1.4"/>
<line x1="508.70" y1="235.50" x2="513.90" y2="235.50" stroke="#000" stroke-width="1.4"/>
<line x1="511.30" y1="238.30" x2="511.30" y2="241.00" stroke="#000" stroke-width="1.4"/>
<line x1="508.70" y1="241.00" x2="513.90" y2="241.00" stroke="#000" stroke-width="1.4"/>
<text transform="translate(461.85,314.40) rotate(-45)" font-size="7.7" text-anchor="end" font-weight="bold">PAD4+/+ Control</text>
<text transform="translate(478.80,314.40) rotate(-45)" font-size="7.7" text-anchor="end" font-weight="bold">PAD4-/- Control</text>
<text transform="translate(496.10,314.40) rotate(-45)" font-size="7.7" text-anchor="end" font-weight="bold">PAD4+/+ CLP 24h</text>
<text transform="translate(513.30,314.40) rotate(-45)" font-size="7.7" text-anchor="end" font-weight="bold">PAD4-/- CLP 24h</text>
</svg>
</body></html>
